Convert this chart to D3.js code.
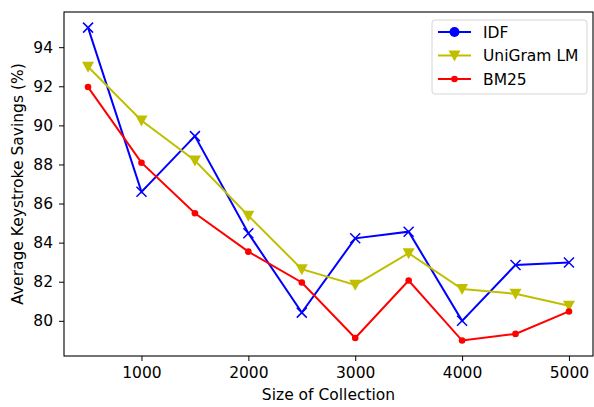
<!DOCTYPE html>
<html>
<head>
<meta charset="utf-8">
<script src="https://cdn.jsdelivr.net/npm/d3@7"></script>
<style>
  body { margin: 0; background: #fff; }
  svg { font-family: "DejaVu Sans", sans-serif; }
  .tick text { font-family: "DejaVu Sans", sans-serif; font-size: 15.5px; fill: #000; }
  .tick line, .domain { stroke: #000; }
</style>
</head>
<body>
<div id="chart"></div>
<script>
// data
const sizes = [500, 1000, 1500, 2000, 2500, 3000, 3500, 4000, 4500, 5000];
const idf = [95.0, 86.6, 89.45, 84.48, 80.42, 84.22, 84.56, 80.0, 82.86, 82.98];
const unigram = [93.0, 90.25, 88.2, 85.38, 82.64, 81.84, 83.46, 81.63, 81.38, 80.77];
const bm25 = [91.96, 88.09, 85.5, 83.54, 81.96, 79.12, 82.06, 78.99, 79.33, 80.48];
const xTicks = [1000, 2000, 3000, 4000, 5000];
const yTicks = [80, 82, 84, 86, 88, 90, 92, 94];

const series = [
    { name: "IDF", values: idf, color: "#0000ff", marker: "x", legendMarker: "circle" },
    { name: "UniGram LM", values: unigram, color: "#bfbf00", marker: "tri", legendMarker: "tri" },
    { name: "BM25", values: bm25, color: "#ff0000", marker: "dot", legendMarker: "dot" }
];

//set dimensions
const width = 594,
    height = 407,
    margin = { top: 12, right: 1, bottom: 51, left: 64 };

const svg = d3.select("#chart")
    .append("svg")
    .attr("width", width)
    .attr("height", height);

// scales (matplotlib-style 5% margins)
const xScale = d3.scaleLinear()
    .domain([275, 5225])
    .range([margin.left, width - margin.right]);

const yScale = d3.scaleLinear()
    .domain([78.2, 95.8])
    .range([height - margin.bottom, margin.top]);

// axes
svg.append("g")
    .attr("transform", "translate(0," + (height - margin.bottom) + ")")
    .call(d3.axisBottom(xScale).tickValues(xTicks).tickSize(5).tickPadding(6).tickFormat(d3.format("d")))
    .call(g => g.select(".domain").remove());

svg.append("g")
    .attr("transform", "translate(" + margin.left + ",0)")
    .call(d3.axisLeft(yScale).tickValues(yTicks).tickSize(5).tickPadding(6))
    .call(g => g.select(".domain").remove());

// frame
svg.append("rect")
    .attr("x", margin.left)
    .attr("y", margin.top)
    .attr("width", width - margin.left - margin.right)
    .attr("height", height - margin.top - margin.bottom)
    .attr("fill", "none")
    .attr("stroke", "#000")
    .attr("stroke-width", 1.1);

// axis labels
svg.append("text")
    .attr("x", (margin.left + width - margin.right) / 2)
    .attr("y", 400)
    .attr("text-anchor", "middle")
    .style("font-size", "15.5px")
    .text("Size of Collection");

svg.append("text")
    .attr("transform", "translate(23," + ((margin.top + height - margin.bottom) / 2) + ") rotate(-90)")
    .attr("text-anchor", "middle")
    .style("font-size", "15.5px")
    .text("Average Keystroke Savings (%)");

// markers
function drawMarker(g, type, color, x, y) {
    if (type === "x") {
        g.append("path")
            .attr("d", `M${x - 5},${y - 5}L${x + 5},${y + 5}M${x - 5},${y + 5}L${x + 5},${y - 5}`)
            .attr("stroke", color).attr("stroke-width", 1.5).attr("fill", "none");
    } else if (type === "tri") {
        g.append("path")
            .attr("d", `M${x - 6},${y - 5}L${x + 6},${y - 5}L${x},${y + 6}Z`)
            .attr("fill", color);
    } else if (type === "dot") {
        g.append("circle").attr("cx", x).attr("cy", y).attr("r", 3.3).attr("fill", color);
    } else if (type === "circle") {
        g.append("circle").attr("cx", x).attr("cy", y).attr("r", 5).attr("fill", color);
    }
}

const line = d3.line()
    .x(d => xScale(d[0]))
    .y(d => yScale(d[1]));

const plot = svg.append("g");
series.forEach(s => {
    const pts = sizes.map((x, i) => [x, s.values[i]]);
    plot.append("path")
        .datum(pts)
        .attr("d", line)
        .attr("fill", "none")
        .attr("stroke", s.color)
        .attr("stroke-width", 2);
    pts.forEach(p => drawMarker(plot, s.marker, s.color, xScale(p[0]), yScale(p[1])));
});

// legend
const legend = svg.append("g").attr("transform", "translate(432,20)");
legend.append("rect")
    .attr("width", 155)
    .attr("height", 74)
    .attr("rx", 3)
    .attr("fill", "#fff")
    .attr("fill-opacity", 0.8)
    .attr("stroke", "#d6d6d6");

series.forEach((s, i) => {
    const y = 12 + i * 23.5;
    legend.append("line")
        .attr("x1", 6).attr("x2", 39)
        .attr("y1", y).attr("y2", y)
        .attr("stroke", s.color).attr("stroke-width", 2);
    drawMarker(legend, s.legendMarker, s.color, 22.5, y);
    legend.append("text")
        .attr("x", 51)
        .attr("y", y + 5.5)
        .style("font-size", "15.5px")
        .text(s.name);
});
</script>
</body>
</html>
